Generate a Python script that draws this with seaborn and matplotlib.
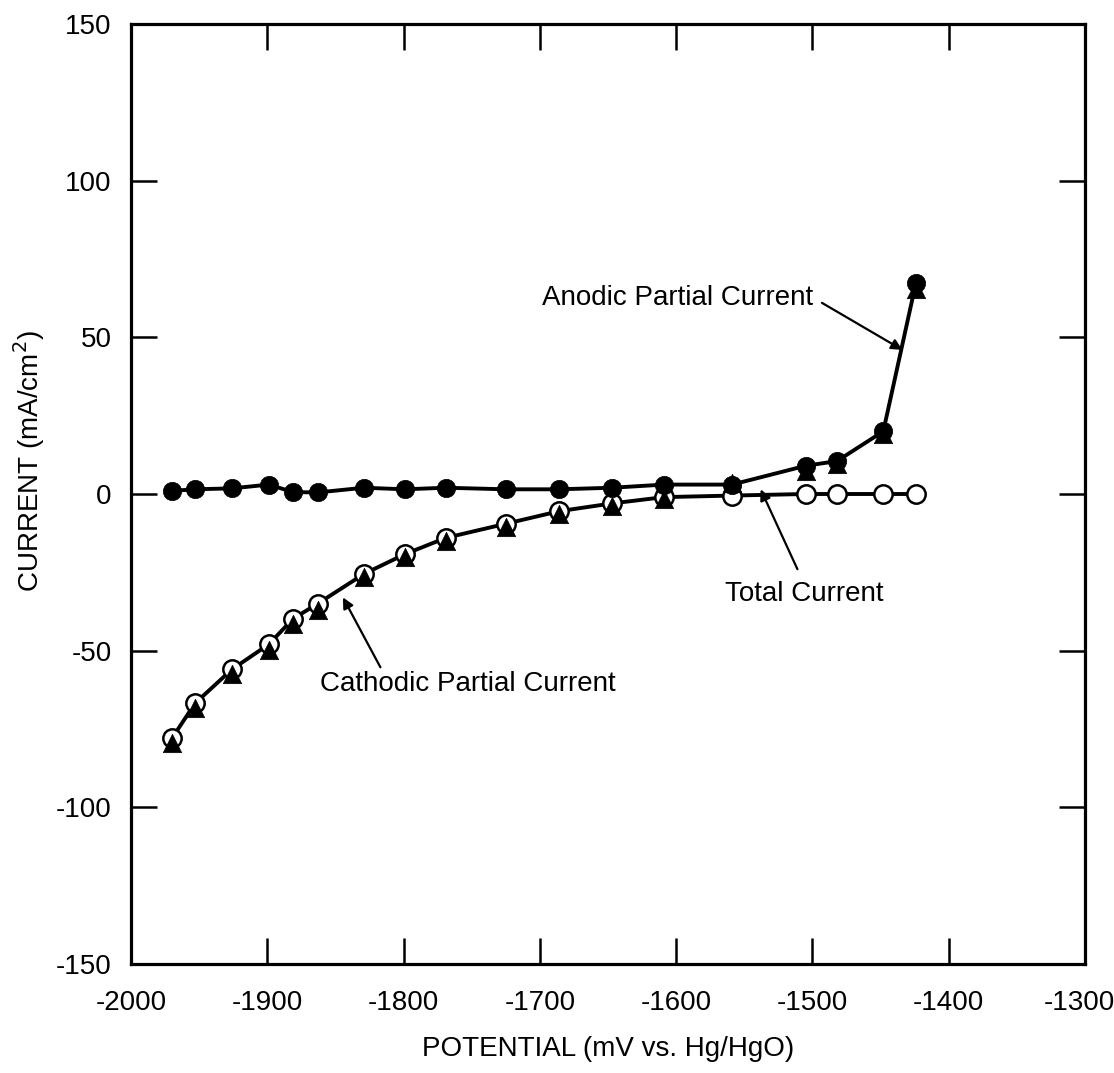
import numpy as np
import pandas as pd
import matplotlib
matplotlib.use("Agg")
import matplotlib.pyplot as plt
import matplotlib.transforms as mtransforms
import seaborn as sns

# ---- data ----
potential = [-1970, -1953, -1926, -1899, -1881, -1863, -1829, -1799, -1769,
             -1725, -1686, -1647, -1609, -1559, -1505, -1482, -1448, -1424]
anodic = [1.0, 1.5, 1.8, 3.0, 0.6, 0.5, 2.0, 1.5, 2.0,
          1.5, 1.5, 2.0, 3.0, 3.0, 9.0, 10.5, 20.0, 67.5]
cathodic = [-79.5, -68.4, -57.6, -49.7, -41.4, -37.0, -26.5, -20.0, -15.0,
            -10.5, -6.5, -3.7, -1.5, 3.5, 7.5, 9.5, 19.0, 65.5]
total = [-78.0, -66.8, -56.0, -48.0, -39.8, -35.0, -25.5, -19.2, -14.0,
         -9.5, -5.5, -3.0, -1.0, -0.5, 0.0, 0.0, 0.0, 0.0]

xticks = [-2000, -1900, -1800, -1700, -1600, -1500, -1400, -1300]
yticks = [-150, -100, -50, 0, 50, 100, 150]

df = pd.DataFrame({"potential": potential, "anodic": anodic,
                   "cathodic": cathodic, "total": total})

sns.set_style("ticks")
plt.rcParams["font.family"] = ["Liberation Sans", "DejaVu Sans"]
plt.rcParams["text.color"] = "black"
plt.rcParams["axes.labelcolor"] = "black"
plt.rcParams["xtick.color"] = "black"
plt.rcParams["ytick.color"] = "black"

fig = plt.figure(figsize=(11.14, 10.73), dpi=100)
ax = fig.add_axes([131 / 1114, 1 - 964 / 1073, (1085 - 131) / 1114, (964 - 24) / 1073])

lw = 2.8
sns.lineplot(data=df, x="potential", y="anodic", color="black", lw=lw, ax=ax,
             sort=False, zorder=2)
sns.lineplot(data=df, x="potential", y="total", color="black", lw=lw, ax=ax,
             sort=False, zorder=2)

ms = 175
sns.scatterplot(data=df, x="potential", y="total", marker="o", s=ms,
                facecolor="white", edgecolor="black", linewidth=1.8, ax=ax, zorder=3)
sns.scatterplot(data=df, x="potential", y="cathodic", marker="^", s=ms,
                color="black", edgecolor="black", linewidth=0.5, ax=ax, zorder=4)
sns.scatterplot(data=df, x="potential", y="anodic", marker="o", s=ms,
                color="black", edgecolor="black", linewidth=0.5, ax=ax, zorder=5)

ax.set_xlim(-2000, -1300)
ax.set_ylim(-150, 150)
ax.set_xticks(xticks)
ax.set_yticks(yticks)
ax.set_xticklabels([str(t) for t in xticks])
ax.set_yticklabels([str(t) for t in yticks])

for s in ax.spines.values():
    s.set_visible(True)
    s.set_linewidth(2.3)
    s.set_color("black")

ax.tick_params(axis="both", direction="in", length=19, width=1.8,
               top=True, right=True, labelsize=20, color="black",
               labelcolor="black")
ax.tick_params(axis="x", pad=19)
ax.tick_params(axis="y", pad=14)

# keep the last x tick label inside the figure, as in the reference
last = ax.get_xticklabels()[-1]
last.set_transform(last.get_transform() +
                   mtransforms.ScaledTranslation(-6 / 100, 0, fig.dpi_scale_trans))

ax.set_xlabel("POTENTIAL (mV vs. Hg/HgO)", fontsize=20, labelpad=14)
ax.set_ylabel("CURRENT (mA/cm$^2$)", fontsize=20)
ax.yaxis.set_label_coords(-0.088, 0.535)

arrow = dict(arrowstyle="-|>", color="black", lw=1.6, mutation_scale=16,
             shrinkA=0, shrinkB=0)

ax.text(-1599, 62.6, "Anodic Partial Current", fontsize=20, ha="center", va="center")
ax.annotate("", xy=(-1434, 46), xytext=(-1493, 61), arrowprops=arrow)

ax.text(-1506, -32, "Total Current", fontsize=20, ha="center", va="center")
ax.annotate("", xy=(-1538, 1.5), xytext=(-1511, -24), arrowprops=arrow)

ax.text(-1753, -60.7, "Cathodic Partial Current", fontsize=20, ha="center", va="center")
ax.annotate("", xy=(-1844.5, -33), xytext=(-1817, -55.3), arrowprops=arrow)

fig.savefig("out.png", dpi=100)
